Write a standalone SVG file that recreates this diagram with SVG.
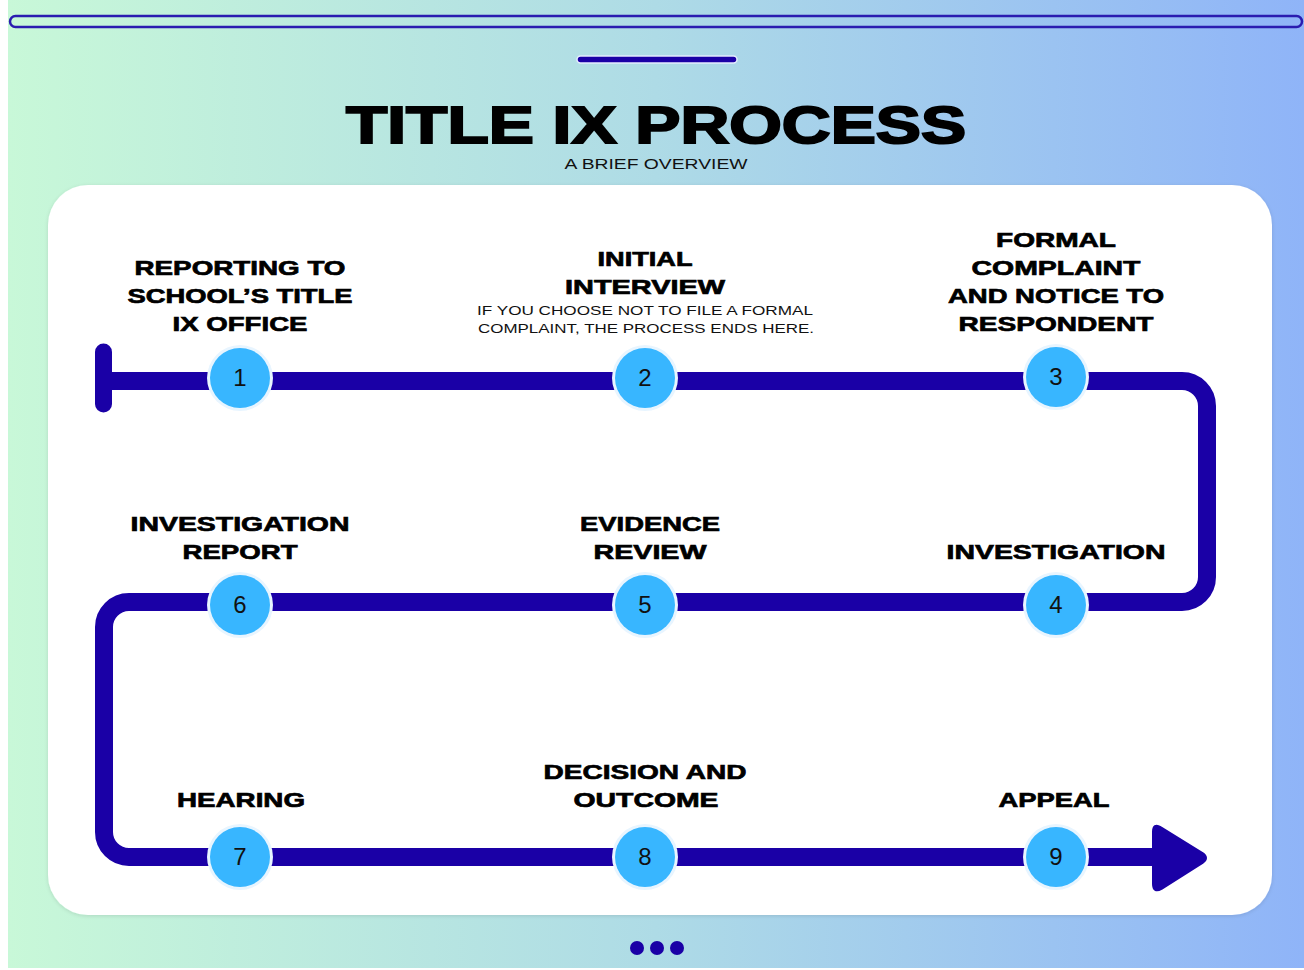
<svg xmlns="http://www.w3.org/2000/svg" width="1304" height="970" viewBox="0 0 1304 970">
  <defs>
    <linearGradient id="bg" x1="0" y1="0" x2="1" y2="0">
      <stop offset="0" stop-color="#c8f8d8"/>
      <stop offset="0.5" stop-color="#aedbe6"/>
      <stop offset="1" stop-color="#8fb4f8"/>
    </linearGradient>
    <filter id="soft" x="-5%" y="-5%" width="110%" height="110%">
      <feGaussianBlur in="SourceAlpha" stdDeviation="2"/>
      <feOffset dy="1"/>
      <feComponentTransfer><feFuncA type="linear" slope="0.12"/></feComponentTransfer>
      <feMerge><feMergeNode/><feMergeNode in="SourceGraphic"/></feMerge>
    </filter>
  </defs>
  <style>
    .lbl { font-family: "Liberation Sans", Arial, sans-serif; font-weight: 700; font-size: 21px; fill: #000; stroke: #000; stroke-width: 0.7; text-anchor: middle; }
    .note { font-family: "Liberation Sans", Arial, sans-serif; font-size: 13px; fill: #111; text-anchor: middle; }
    .num { font-family: "Liberation Sans", Arial, sans-serif; font-size: 24px; fill: #111; text-anchor: middle; }
    .halo { fill: #e8f5ff; }
    .dot { fill: #38b6ff; }
    .track { fill: none; stroke: #1a00a6; stroke-width: 18; stroke-linecap: butt; stroke-linejoin: round; }
  </style>

  <!-- page background -->
  <rect x="0" y="0" width="1304" height="970" fill="#ffffff"/>
  <rect x="8" y="0" width="1296" height="968" fill="url(#bg)"/>

  <!-- header bars -->
  <rect x="10" y="16" width="1292" height="11" rx="5.5" fill="none" stroke="#2a1cb0" stroke-width="2.5"/>
  <rect x="577" y="56" width="160" height="7" rx="3.5" fill="#1a00a6" stroke="#e4ecff" stroke-width="1.5"/>

  <!-- title -->
  <text x="656" y="143" textLength="620" lengthAdjust="spacingAndGlyphs" text-anchor="middle" font-family="'Liberation Sans', Arial, sans-serif" font-weight="700" font-size="52" fill="#000" stroke="#000" stroke-width="2">TITLE IX PROCESS</text>
  <text x="656" y="169" textLength="183" lengthAdjust="spacingAndGlyphs" text-anchor="middle" font-family="'Liberation Sans', Arial, sans-serif" font-size="15" fill="#111">A BRIEF OVERVIEW</text>

  <!-- card -->
  <rect x="48" y="185" width="1224" height="730" rx="40" fill="#ffffff" filter="url(#soft)"/>

  <!-- connectors: the track through all steps -->
  <g id="connectors">
    <line x1="103.5" y1="352" x2="103.5" y2="404" stroke="#1a00a6" stroke-width="17" stroke-linecap="round"/>
    <path class="track" d="M103.5 381 H1182 A25 25 0 0 1 1207 406 V577 A25 25 0 0 1 1182 602 H129 A25 25 0 0 0 104 627 V832 A25 25 0 0 0 129 857 H1162"/>
    <path d="M1160 828 Q1154 824 1154 832 V884 Q1154 892 1161 888 L1202 862 Q1208 858 1202 854 Z" fill="#1a00a6" stroke="#1a00a6" stroke-width="4" stroke-linejoin="round"/>
  </g>

  <!-- step 1 -->
  <g id="step1">
    <text class="lbl" x="240" y="275" textLength="211" lengthAdjust="spacingAndGlyphs">REPORTING TO</text>
    <text class="lbl" x="240" y="303" textLength="225" lengthAdjust="spacingAndGlyphs">SCHOOL’S TITLE</text>
    <text class="lbl" x="240" y="331" textLength="135" lengthAdjust="spacingAndGlyphs">IX OFFICE</text>
    <circle class="halo" cx="240" cy="378" r="33"/>
    <circle class="dot" cx="240" cy="378" r="30"/>
    <text class="num" x="240" y="386">1</text>
  </g>

  <!-- step 2 -->
  <g id="step2">
    <text class="lbl" x="645" y="266" textLength="95" lengthAdjust="spacingAndGlyphs">INITIAL</text>
    <text class="lbl" x="645" y="294" textLength="160" lengthAdjust="spacingAndGlyphs">INTERVIEW</text>
    <text class="note" x="645" y="315" textLength="336" lengthAdjust="spacingAndGlyphs">IF YOU CHOOSE NOT TO FILE A FORMAL</text>
    <text class="note" x="646" y="333" textLength="336" lengthAdjust="spacingAndGlyphs">COMPLAINT, THE PROCESS ENDS HERE.</text>
    <circle class="halo" cx="645" cy="378" r="33"/>
    <circle class="dot" cx="645" cy="378" r="30"/>
    <text class="num" x="645" y="386">2</text>
  </g>

  <!-- step 3 -->
  <g id="step3">
    <text class="lbl" x="1056" y="247" textLength="120" lengthAdjust="spacingAndGlyphs">FORMAL</text>
    <text class="lbl" x="1056" y="275" textLength="169" lengthAdjust="spacingAndGlyphs">COMPLAINT</text>
    <text class="lbl" x="1056" y="303" textLength="216" lengthAdjust="spacingAndGlyphs">AND NOTICE TO</text>
    <text class="lbl" x="1056" y="331" textLength="195" lengthAdjust="spacingAndGlyphs">RESPONDENT</text>
    <circle class="halo" cx="1056" cy="377" r="33"/>
    <circle class="dot" cx="1056" cy="377" r="30"/>
    <text class="num" x="1056" y="385">3</text>
  </g>

  <!-- step 4 -->
  <g id="step4">
    <text class="lbl" x="1056" y="559" textLength="219" lengthAdjust="spacingAndGlyphs">INVESTIGATION</text>
    <circle class="halo" cx="1056" cy="605" r="33"/>
    <circle class="dot" cx="1056" cy="605" r="30"/>
    <text class="num" x="1056" y="613">4</text>
  </g>

  <!-- step 5 -->
  <g id="step5">
    <text class="lbl" x="650" y="531" textLength="140" lengthAdjust="spacingAndGlyphs">EVIDENCE</text>
    <text class="lbl" x="650" y="559" textLength="113" lengthAdjust="spacingAndGlyphs">REVIEW</text>
    <circle class="halo" cx="645" cy="605" r="33"/>
    <circle class="dot" cx="645" cy="605" r="30"/>
    <text class="num" x="645" y="613">5</text>
  </g>

  <!-- step 6 -->
  <g id="step6">
    <text class="lbl" x="240" y="531" textLength="219" lengthAdjust="spacingAndGlyphs">INVESTIGATION</text>
    <text class="lbl" x="240" y="559" textLength="115" lengthAdjust="spacingAndGlyphs">REPORT</text>
    <circle class="halo" cx="240" cy="605" r="33"/>
    <circle class="dot" cx="240" cy="605" r="30"/>
    <text class="num" x="240" y="613">6</text>
  </g>

  <!-- step 7 -->
  <g id="step7">
    <text class="lbl" x="241" y="807" textLength="128" lengthAdjust="spacingAndGlyphs">HEARING</text>
    <circle class="halo" cx="240" cy="857" r="33"/>
    <circle class="dot" cx="240" cy="857" r="30"/>
    <text class="num" x="240" y="865">7</text>
  </g>

  <!-- step 8 -->
  <g id="step8">
    <text class="lbl" x="645" y="779" textLength="203" lengthAdjust="spacingAndGlyphs">DECISION AND</text>
    <text class="lbl" x="646" y="807" textLength="145" lengthAdjust="spacingAndGlyphs">OUTCOME</text>
    <circle class="halo" cx="645" cy="857" r="33"/>
    <circle class="dot" cx="645" cy="857" r="30"/>
    <text class="num" x="645" y="865">8</text>
  </g>

  <!-- step 9 -->
  <g id="step9">
    <text class="lbl" x="1054" y="807" textLength="111" lengthAdjust="spacingAndGlyphs">APPEAL</text>
    <circle class="halo" cx="1056" cy="857" r="33"/>
    <circle class="dot" cx="1056" cy="857" r="30"/>
    <text class="num" x="1056" y="865">9</text>
  </g>

  <!-- footer dots -->
  <g fill="#1a00a6">
    <circle cx="637" cy="948" r="7"/>
    <circle cx="657" cy="948" r="7"/>
    <circle cx="677" cy="948" r="7"/>
  </g>
</svg>
